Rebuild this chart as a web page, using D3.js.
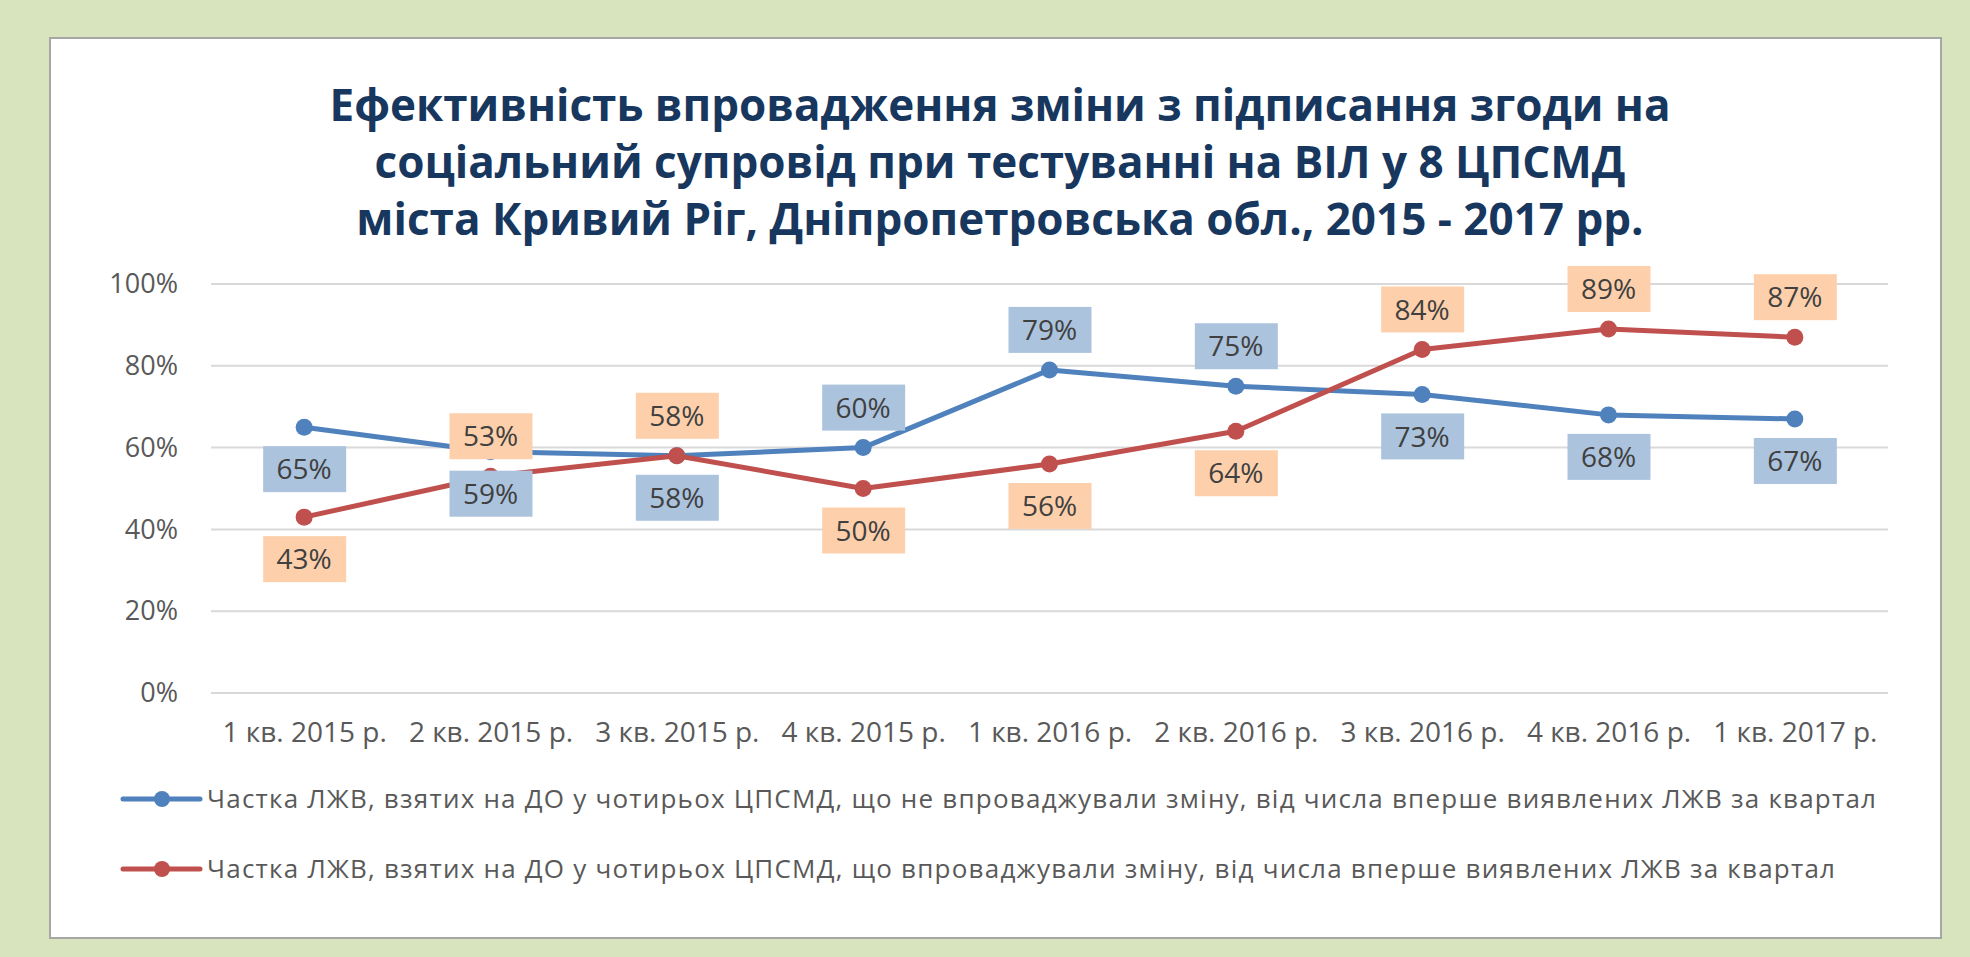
<!DOCTYPE html>
<html>
<head>
<meta charset="utf-8">
<script src="https://cdn.jsdelivr.net/npm/d3@7"></script>
<style>
  html, body { margin: 0; padding: 0; background: #d7e4bd; }
  svg { display: block; }
</style>
</head>
<body>
<svg id="chart" width="1970" height="957"></svg>
<script>
// Chart data
const titleLines = [
    "Ефективність впровадження зміни з підписання згоди на",
    "соціальний супровід при тестуванні на ВІЛ у 8 ЦПСМД",
    "міста Кривий Ріг, Дніпропетровська обл., 2015 - 2017 рр."
];
const quarters = ["1 кв. 2015 р.", "2 кв. 2015 р.", "3 кв. 2015 р.", "4 кв. 2015 р.",
    "1 кв. 2016 р.", "2 кв. 2016 р.", "3 кв. 2016 р.", "4 кв. 2016 р.", "1 кв. 2017 р."];
const notImplemented = [0.65, 0.59, 0.58, 0.60, 0.79, 0.75, 0.73, 0.68, 0.67];
const implemented = [0.43, 0.53, 0.58, 0.50, 0.56, 0.64, 0.84, 0.89, 0.87];
const seriesNames = [
    "Частка ЛЖВ, взятих на ДО у чотирьох ЦПСМД, що не впроваджували зміну, від числа вперше виявлених ЛЖВ за квартал",
    "Частка ЛЖВ, взятих на ДО у чотирьох ЦПСМД, що впроваджували зміну, від числа вперше виявлених ЛЖВ за квартал"
];
const yTicks = [0, 0.2, 0.4, 0.6, 0.8, 1.0];
// where each data label sits relative to its point
const blueLabelSide = ["below", "below", "below", "above", "above", "above", "below", "below", "below"];
const redLabelSide = ["below", "above", "above", "below", "below", "below", "above", "above", "above"];

const font = "'Open Sans', 'Noto Sans', sans-serif";
const svg = d3.select("#chart");

// frame
svg.append("rect")
    .attr("x", 50).attr("y", 38).attr("width", 1891).attr("height", 900)
    .attr("fill", "#fff").attr("stroke", "#a6a6a6").attr("stroke-width", 2);

// title
const title = svg.append("g").attr("font-family", font).attr("font-weight", "bold")
    .attr("fill", "#17375e").attr("text-anchor", "middle");
titleLines.forEach((line, i) => {
    title.append("text")
        .attr("x", 1000).attr("y", 121 + i * 57)
        .attr("font-size", 44)
        .text(line);
});

const x = d3.scalePoint().domain(quarters).range([211, 1888]).padding(0.5);
const y = d3.scaleLinear().domain([0, 1]).range([693, 284]);

// gridlines
svg.append("g")
    .selectAll("line").data(yTicks).join("line")
    .attr("x1", 211).attr("x2", 1888)
    .attr("y1", d => y(d)).attr("y2", d => y(d))
    .attr("stroke", "#d9d9d9").attr("stroke-width", 2);

// y axis
const yAxis = svg.append("g")
    .attr("transform", "translate(192,0)")
    .call(d3.axisLeft(y).tickValues(yTicks).tickFormat(d3.format(".0%")).tickSize(0).tickPadding(14));
yAxis.select(".domain").remove();
yAxis.selectAll("text").attr("font-family", font).attr("font-size", 27).attr("fill", "#595959");

// x axis
const xAxis = svg.append("g")
    .attr("transform", "translate(0,742)")
    .call(d3.axisBottom(x).tickSize(0).tickPadding(0));
xAxis.select(".domain").remove();
xAxis.selectAll("text").attr("font-family", font).attr("font-size", 28).attr("fill", "#595959")
    .attr("dy", 0);

const series = [
    { values: notImplemented, color: "#4f81bd", box: "#abc3dd", sides: blueLabelSide },
    { values: implemented, color: "#c0504d", box: "#fdd0ab", sides: redLabelSide }
];

const line = d3.line().x((d, i) => x(quarters[i])).y(d => y(d));

series.forEach(s => {
    svg.append("path").datum(s.values)
        .attr("d", line).attr("fill", "none")
        .attr("stroke", s.color).attr("stroke-width", 5).attr("stroke-linejoin", "round");
    svg.append("g").selectAll("circle").data(s.values).join("circle")
        .attr("cx", (d, i) => x(quarters[i])).attr("cy", d => y(d))
        .attr("r", 8.5).attr("fill", s.color);
});

// data labels
series.forEach(s => {
    const g = svg.append("g").selectAll("g").data(s.values).join("g")
        .attr("transform", (d, i) => {
            const off = s.sides[i] === "above" ? -40 : 42;
            return `translate(${x(quarters[i])},${y(d) + off})`;
        });
    g.append("rect").attr("x", -41).attr("y", -23).attr("width", 83).attr("height", 46).attr("fill", s.box);
    g.append("text").attr("text-anchor", "middle").attr("dy", "0.36em")
        .attr("font-family", font).attr("font-size", 28).attr("fill", "#404040")
        .text(d => d3.format(".0%")(d));
});

// legend
const legendWidths = [1669, 1628];
seriesNames.forEach((name, i) => {
    const ly = 799 + i * 70;
    const g = svg.append("g");
    g.append("line").attr("x1", 123).attr("x2", 200).attr("y1", ly).attr("y2", ly)
        .attr("stroke", series[i].color).attr("stroke-width", 5).attr("stroke-linecap", "round");
    g.append("circle").attr("cx", 162).attr("cy", ly).attr("r", 8).attr("fill", series[i].color);
    g.append("text").attr("x", 207).attr("y", ly).attr("dy", "0.35em")
        .attr("font-family", font).attr("font-size", 26).attr("fill", "#595959")
        .attr("textLength", legendWidths[i]).attr("lengthAdjust", "spacing")
        .text(name);
});
</script>
</body>
</html>
